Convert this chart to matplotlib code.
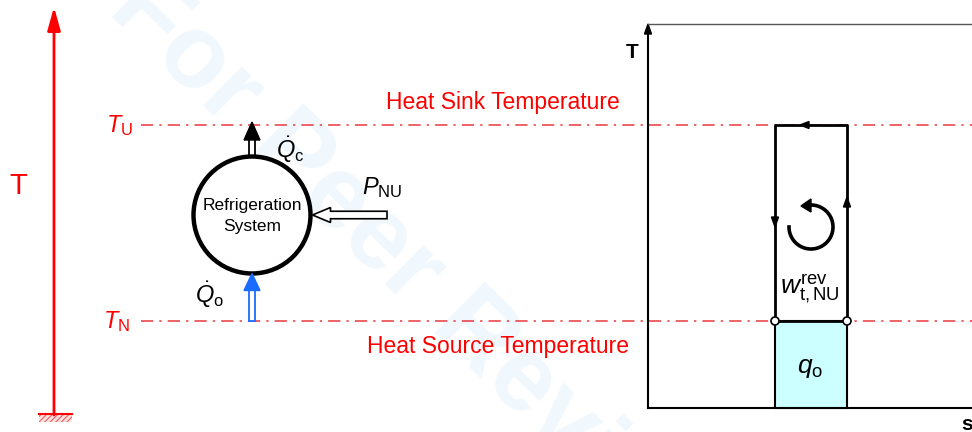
import numpy as np
import matplotlib
matplotlib.use("Agg")
import matplotlib.pyplot as plt
from matplotlib.patches import Circle, Rectangle, Polygon, FancyArrow

plt.rcParams['font.family'] = ['Liberation Sans', 'DejaVu Sans']
plt.rcParams['mathtext.fontset'] = 'custom'
plt.rcParams['mathtext.rm'] = 'Liberation Sans'
plt.rcParams['mathtext.it'] = 'Liberation Sans:italic'
plt.rcParams['mathtext.bf'] = 'Liberation Sans:bold'
plt.rcParams['hatch.linewidth'] = 0.8

# ---- diagram data (pixel-space layout of the schematic) ----
level_names = ["Heat Sink Temperature", "Heat Source Temperature"]
level_labels = [r"$T_{\rm U}$", r"$T_{\rm N}$"]
level_y = [125, 321]            # T_U (sink), T_N (source)
cycle_s = [775, 847]            # entropy of the two vertical branches
axis_s0 = 648                   # T-s axis origin (s)
axis_T0 = 408                   # T-s axis origin (T)
axis_top = 24
system_center = (252, 215)
system_radius = 58.5

RED = '#ff0000'
BLUE = '#1a6cff'

fig = plt.figure(figsize=(9.72, 4.32), dpi=100)
ax = fig.add_axes([0, 0, 1, 1])
ax.set_xlim(0, 972)
ax.set_ylim(432, 0)
ax.axis('off')

# watermark
ax.text(125, -8, "For Peer Review", rotation=-44.5, rotation_mode='anchor',
        ha='left', va='center', fontsize=75, fontweight='bold',
        color='#f0f8fe', zorder=0)

# ---- left vertical T axis ----
ax.annotate('', xy=(54, 7), xytext=(54, 415),
            arrowprops=dict(arrowstyle='-|>,head_width=0.28,head_length=1.0',
                            color=RED, lw=2, mutation_scale=14,
                            shrinkA=0, shrinkB=0))
ax.add_patch(Rectangle((39, 414), 33, 8, facecolor='#fde0e0', edgecolor='#e86060',
                       hatch='//////', lw=0.0))
ax.plot([39, 72], [414, 414], color=RED, lw=1.5)
ax.text(18, 186, "T", color=RED, fontsize=21, ha='center', va='center')

# ---- temperature levels ----
for y, lab, name, nx in zip(level_y, level_labels, level_names, [503, 498]):
    ax.plot([141, 972], [y, y], color='#e8383d', lw=1.1,
            dashes=(8, 4, 1.5, 4), zorder=1)
    ax.text(120 if y == level_y[0] else 117, y + 1, lab, color=RED,
            fontsize=17, ha='center', va='center')
    ny = y - 23 if y == level_y[0] else y + 26
    ax.text(nx, ny, name, color=RED, fontsize=16.5, ha='center', va='center')

# ---- refrigeration system ----
cx, cy = system_center
ax.add_patch(Circle((cx, cy), system_radius, facecolor='white',
                    edgecolor='black', lw=3.2, zorder=3))
ax.text(cx, cy + 1, "Refrigeration\nSystem", fontsize=12.5, ha='center',
        va='center', linespacing=1.45, zorder=4)

# Q_c arrow (up, out of system)
top = cy - system_radius
ax.add_patch(Rectangle((cx - 3, level_y[0] + 14), 6, top - level_y[0] - 14,
                       facecolor='white', edgecolor='black', lw=1.3, zorder=2))
ax.add_patch(Polygon([[cx - 8, level_y[0] + 15], [cx + 8, level_y[0] + 15],
                      [cx, level_y[0] - 3]], closed=True,
                     facecolor='black', edgecolor='black', zorder=2))
ax.text(290, 150, r"$\dot{Q}_{\rm c}$", fontsize=17, ha='center', va='center')

# Q_o arrow (up, into system)
bot = cy + system_radius
ax.add_patch(Rectangle((cx - 3, bot + 16), 6, level_y[1] - bot - 16,
                       facecolor='white', edgecolor=BLUE, lw=1.3, zorder=2))
ax.add_patch(Polygon([[cx - 8, bot + 17], [cx + 8, bot + 17], [cx, bot]],
                     closed=True, facecolor=BLUE, edgecolor=BLUE, zorder=4))
ax.text(210, 295, r"$\dot{Q}_{\rm o}$", fontsize=17, ha='center', va='center')

# P_NU arrow (left, into system)
ax.add_patch(FancyArrow(387, cy, -(387 - cx - system_radius - 2), 0, width=7.5,
                        head_width=15, head_length=18, length_includes_head=True,
                        facecolor='white', edgecolor='black', lw=1.2, zorder=4))
ax.text(382, 188, r"$P_{\rm NU}$", fontsize=17, ha='center', va='center')

# ---- T-s diagram ----
ax.plot([axis_s0, axis_s0], [axis_T0, axis_top + 8], color='black', lw=1.5,
        zorder=2)
ax.add_patch(Polygon([[axis_s0 - 3.5, axis_top + 10], [axis_s0 + 3.5, axis_top + 10],
                      [axis_s0, axis_top]], closed=True, color='black', zorder=2))
ax.plot([axis_s0, 972], [axis_top, axis_top], color='#555555', lw=1.0)
ax.plot([axis_s0, 972], [axis_T0, axis_T0], color='black', lw=1.5)
ax.text(632, 52, "T", fontsize=15, fontweight='bold', ha='center', va='center')
ax.text(961, 424, "s", fontsize=15, fontweight='bold', ha='left', va='center')

sL, sR = cycle_s
TH, TL = level_y
# q_o area
ax.add_patch(Rectangle((sL, TL), sR - sL, axis_T0 - TL, facecolor='#ccffff',
                       edgecolor='black', lw=1.5, zorder=2))
# cycle
ax.plot([sL, sL, sR, sR, sL], [TL, TH, TH, TL, TL], color='black', lw=2,
        zorder=3)
tri = dict(color='black', zorder=4)
mx = 805
ax.add_patch(Polygon([[mx - 5, TH], [mx + 4, TH - 3.5], [mx + 4, TH + 3.5]], **tri))
yl = 222
ax.add_patch(Polygon([[sL, yl + 5], [sL - 3.5, yl - 5], [sL + 3.5, yl - 5]], **tri))
yr = 202
ax.add_patch(Polygon([[sR, yr - 5], [sR - 3.5, yr + 5], [sR + 3.5, yr + 5]], **tri))
for s in cycle_s:
    ax.add_patch(Circle((s, TL), 4, facecolor='white', edgecolor='black',
                        lw=1.2, zorder=5))

# rotation symbol
th = np.deg2rad(np.linspace(180, -95, 120))
rx, ry = 811 + 22 * np.cos(th), 227 + 22 * np.sin(th)
ax.plot(rx, ry, color='black', lw=2.6, zorder=4)
ax.add_patch(Polygon([[801, 206], [811, 199], [811, 212]], color='black', zorder=4))

ax.text(810, 289, r"$w_{\rm t,NU}^{\rm rev}$", fontsize=19, ha='center',
        va='center', zorder=4)
ax.text(810, 368, r"$q_{\rm o}$", fontsize=19, ha='center', va='center',
        zorder=4)

fig.savefig("out.png", dpi=100)
